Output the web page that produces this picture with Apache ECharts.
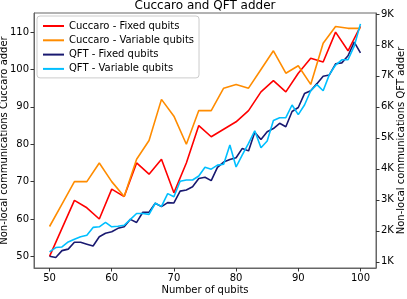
<!DOCTYPE html>
<html>
<head>
<meta charset="utf-8">
<script src="https://cdn.jsdelivr.net/npm/echarts@6/dist/echarts.min.js"></script>
<style>
html,body{margin:0;padding:0;background:#fff;}
#chart{width:407px;height:299px;}
</style>
</head>
<body>
<div id="chart"></div>
<script>
const qubitsC = [50,52,54,56,58,60,62,64,66,68,70,72,74,76,78,80,82,84,86,88,90,92,94,96,98,100];
const cuccaroFixed = [50,57.5,65,63,60,68,66,75,72,76,67,75,85,82,84,86,89,94,97,94,99,103,102,110,105,111.5];
const cuccaroVariable = [58,64,70,70,75,70,66,76,81,92,87.5,80,89,89,95,96,95,100,105,99,101,96,107,111.5,111,111];

const qubitsQ = [50,51,52,53,54,55,56,57,58,59,60,61,62,63,64,65,66,67,68,69,70,71,72,73,74,75,76,77,78,79,80,81,82,83,84,85,86,87,88,89,90,91,92,93,94,95,96,97,98,99,100];
const qftFixed = [1180,1140,1360,1410,1630,1630,1570,1510,1810,1920,1970,2080,2130,2370,2270,2600,2600,2890,2780,2910,2900,3280,3320,3420,3690,3730,3620,4050,4220,4300,4360,4660,4580,5180,4950,5200,5300,5470,5360,5850,5980,6430,6520,6750,6990,7030,7390,7420,7650,8090,7740];
const qftVariable = [1320,1460,1480,1640,1730,1810,1860,2110,2130,2270,2130,2150,2180,2370,2560,2560,2530,2890,2790,3200,3100,3600,3640,3640,3770,4050,3990,4120,4150,4770,4060,4450,4820,5230,4680,4900,5560,5650,5650,6060,5750,6060,6520,6720,6520,7040,7350,7520,7520,7960,8680];

const xTicks = [50,60,70,80,90,100];
const leftTicks = [50,60,70,80,90,100,110];
const rightTicks = [1000,2000,3000,4000,5000,6000,7000,8000,9000];

const seriesNames = ['Cuccaro - Fixed qubits','Cuccaro - Variable qubits','QFT - Fixed qubits','QFT - Variable qubits'];
const seriesColors = ['#ff0000','#ff8c00','#191970','#00bfff'];

const FONT = 'DejaVu Sans';
const zip = (xs, ys) => xs.map((x, i) => [x, ys[i]]);

const chart = echarts.init(document.getElementById('chart'), null, {renderer: 'canvas'});
const tickStyle = {show: true, length: 3.5, inside: false, lineStyle: {color: '#333', width: 1}};
const labelStyle = {fontFamily: FONT, fontSize: 10, color: '#000'};

chart.setOption({
  animation: false,
  backgroundColor: '#fff',
  title: {
    text: 'Cuccaro and QFT adder',
    left: 205, top: 0, padding: 0, textAlign: 'center',
    textStyle: {fontFamily: FONT, fontSize: 12, fontWeight: 'normal', color: '#000'}
  },
  grid: {left: 34, right: 31, top: 13, bottom: 31, containLabel: false, outerBoundsMode: 'none',
         show: true, borderColor: '#666', borderWidth: 1, backgroundColor: 'transparent'},
  legend: {
    orient: 'vertical', left: 37, top: 16, padding: [5, 5, 4, 5],
    itemGap: 4.3, itemWidth: 21, itemHeight: 10,
    backgroundColor: '#fff', borderColor: '#ccc', borderWidth: 1, borderRadius: 3,
    itemStyle: {opacity: 0},
    textStyle: {fontFamily: FONT, fontSize: 10, color: '#000'},
    data: seriesNames
  },
  xAxis: {
    type: 'value', min: 47.5, max: 102.5,
    name: 'Number of qubits', nameLocation: 'middle', nameGap: 17, nameMoveOverlap: false,
    nameTextStyle: labelStyle,
    axisLine: {show: true, lineStyle: {color: '#666'}},
    axisTick: Object.assign({customValues: xTicks}, tickStyle),
    axisLabel: Object.assign({customValues: xTicks, margin: 5}, labelStyle),
    splitLine: {show: false}
  },
  yAxis: [{
    type: 'value', min: 46.9, max: 115.1, position: 'left',
    name: 'Non-local communications Cuccaro adder', nameLocation: 'middle', nameRotate: 90, nameGap: 25,
    nameMoveOverlap: false,
    nameTextStyle: labelStyle,
    axisLine: {show: true, lineStyle: {color: '#666'}},
    axisTick: Object.assign({customValues: leftTicks}, tickStyle),
    axisLabel: Object.assign({customValues: leftTicks, margin: 5}, labelStyle),
    splitLine: {show: false}
  }, {
    type: 'value', min: 800, max: 9030, position: 'right',
    name: 'Non-local communications QFT adder', nameLocation: 'middle', nameRotate: 90, nameGap: 20,
    nameMoveOverlap: false,
    nameTextStyle: labelStyle,
    axisLine: {show: true, lineStyle: {color: '#666'}},
    axisTick: Object.assign({customValues: rightTicks}, tickStyle),
    axisLabel: Object.assign({customValues: rightTicks, margin: 5, formatter: v => (v / 1000) + 'K'}, labelStyle),
    splitLine: {show: false}
  }],
  series: [
    {name: seriesNames[0], type: 'line', yAxisIndex: 0, data: zip(qubitsC, cuccaroFixed)},
    {name: seriesNames[1], type: 'line', yAxisIndex: 0, data: zip(qubitsC, cuccaroVariable)},
    {name: seriesNames[2], type: 'line', yAxisIndex: 1, data: zip(qubitsQ, qftFixed)},
    {name: seriesNames[3], type: 'line', yAxisIndex: 1, data: zip(qubitsQ, qftVariable)}
  ].map((s, i) => Object.assign(s, {
    symbol: 'none', showSymbol: false, color: seriesColors[i],
    lineStyle: {color: seriesColors[i], width: 1.6}, z: 2 + i
  }))
});
</script>
</body>
</html>
